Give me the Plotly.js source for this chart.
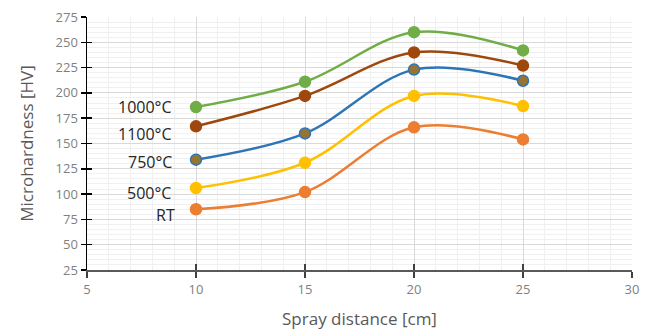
<!DOCTYPE html>
<html><head><meta charset="utf-8">
<script src="https://cdn.plot.ly/plotly-3.0.1.min.js"></script>
<style>html,body{margin:0;padding:0;background:#fff}#chart{width:650px;height:331px}</style>
</head><body><div id="chart"></div>
<script>
const sprayDistance = [10, 15, 20, 25];
const seriesNames = ["1000°C", "1100°C", "750°C", "500°C", "RT"];
const hv1000 = [186, 211, 260, 242];
const hv1100 = [167, 197, 240, 227];
const hv750  = [134, 160, 223, 212];
const hv500  = [106, 131, 197, 187];
const hvRT   = [85, 102, 166, 154];
const seriesValues = [hv1000, hv1100, hv750, hv500, hvRT];
const lineColors = ["#70ad47", "#9e480e", "#2e75b6", "#ffc000", "#ed7d31"];
const markerFills = ["#70ad47", "#9e480e", "#997330", "#ffc000", "#ed7d31"];
const labelYShift = [0, -8, -2, -5, -6];
const labelXShift = [-23, -23, -23, -24, -20];

const traces = seriesValues.map((v, i) => ({
  x: sprayDistance, y: v, type: 'scatter', mode: 'lines+markers',
  name: seriesNames[i],
  line: {color: lineColors[i], width: 2.5, shape: 'spline', smoothing: 1},
  marker: {size: 11, color: markerFills[i], line: {color: lineColors[i], width: 1.5}},
  showlegend: false, hoverinfo: 'skip'
}));
traces.push({x: [], y: [], xaxis: 'x2', yaxis: 'y2', type: 'scatter', showlegend: false});

const annotations = seriesNames.map((n, i) => ({
  x: sprayDistance[0], y: seriesValues[i][0], xref: 'x', yref: 'y',
  text: n, showarrow: false, xanchor: 'right', xshift: labelXShift[i], yshift: labelYShift[i],
  borderpad: 0,
  font: {family: 'Open Sans, sans-serif', size: 16, color: '#262626'}
}));

const layout = {
  width: 650, height: 331,
  margin: {l: 87, r: 18, t: 17, b: 61},
  paper_bgcolor: '#fff', plot_bgcolor: '#fff',
  font: {family: 'Open Sans, sans-serif', color: '#7f7f7f'},
  xaxis: {
    range: [5, 30], dtick: 5, tick0: 5, showgrid: true, gridcolor: '#d9d9d9', gridwidth: 1,
    minor: {dtick: 1, showgrid: true, gridcolor: '#f0f0f0', gridwidth: 1},
    zeroline: false, showline: true, linecolor: '#595959', linewidth: 2,
    ticks: 'outside', ticklen: 6, tickwidth: 1.5, tickcolor: '#404040',
    tickfont: {size: 13, color: '#7f7f7f'},
    title: {text: 'Spray distance [cm]', font: {size: 17, color: '#595959'}, standoff: 17}
  },
  yaxis: {
    range: [25, 275], dtick: 25, tick0: 25, showgrid: true, gridcolor: '#d9d9d9', gridwidth: 1,
    minor: {dtick: 5, showgrid: true, gridcolor: '#f0f0f0', gridwidth: 1},
    zeroline: false, showline: true, linecolor: '#000', linewidth: 1.5,
    ticks: 'outside', ticklen: 5, tickwidth: 1.5, tickcolor: '#000',
    tickfont: {size: 13, color: '#7f7f7f'},
    title: {text: 'Microhardness [HV]', font: {size: 17, color: '#595959'}, standoff: 17}
  },
  xaxis2: {overlaying: 'x', range: [5, 30], dtick: 5, tick0: 5, showgrid: false, zeroline: false,
    ticks: 'inside', ticklen: 6, tickwidth: 1.5, tickcolor: '#404040', showticklabels: false, side: 'bottom'},
  yaxis2: {overlaying: 'y', range: [25, 275], dtick: 25, tick0: 25, showgrid: false, zeroline: false,
    ticks: 'inside', ticklen: 5, tickwidth: 1.5, tickcolor: '#000', showticklabels: false, side: 'left'},
  annotations: annotations
};
Plotly.newPlot('chart', traces, layout, {displayModeBar: false, staticPlot: true});
</script></body></html>
